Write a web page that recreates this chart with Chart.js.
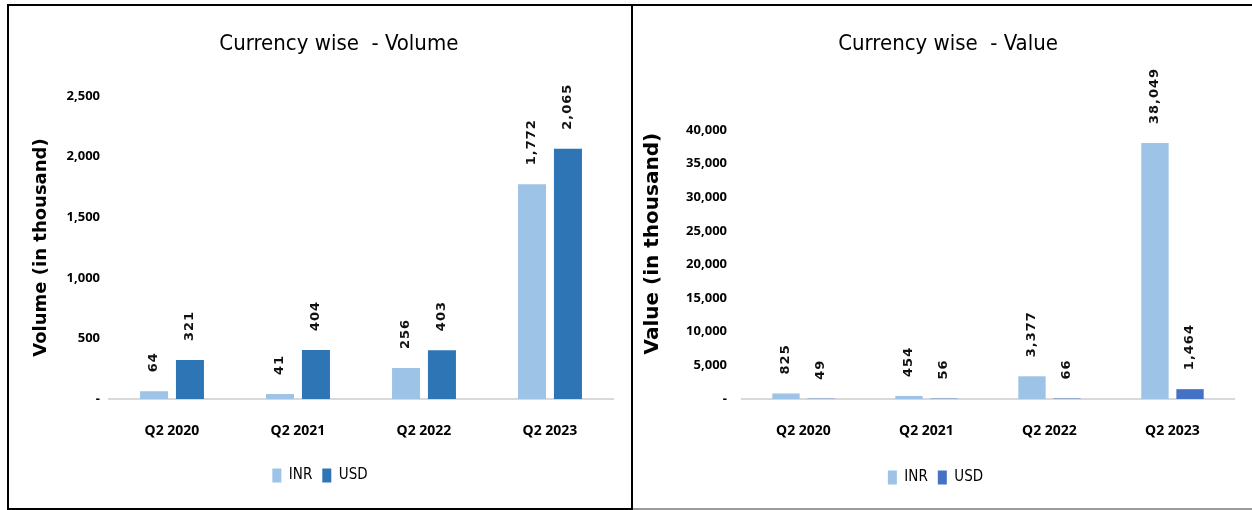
<!DOCTYPE html>
<html>
<head>
<meta charset="utf-8">
<script src="https://cdn.jsdelivr.net/npm/chart.js@4/dist/chart.umd.min.js"></script>
<style>
  body { margin: 0; background: #fff; width: 1252px; height: 510px; overflow: hidden; }
  .panel { position: absolute; box-sizing: border-box; }
  #left-panel { left: 7px; top: 4px; width: 626px; height: 506px; border: 2px solid #000; }
  #right-panel { left: 633px; top: 4px; width: 619px; height: 506px; border-top: 2px solid #000; border-bottom: 2px solid #9a9a9a; }
  canvas { display: block; }
</style>
</head>
<body>
<div class="panel" id="left-panel"><canvas id="volumeChart" width="622" height="502"></canvas></div>
<div class="panel" id="right-panel"><canvas id="valueChart" width="619" height="502"></canvas></div>
<script>
// Chart data (in thousand)
const quarters = ['Q2 2020', 'Q2 2021', 'Q2 2022', 'Q2 2023'];
const volumeINR = [64, 41, 256, 1772];
const volumeUSD = [321, 404, 403, 2065];
const valueINR = [825, 454, 3377, 38049];
const valueUSD = [49, 56, 66, 1464];

const COND = "'DejaVu Sans Condensed', 'Noto Sans', sans-serif";
const SANS = "'Noto Sans', sans-serif";
const WIDE = "'DejaVu Sans', Verdana, sans-serif";

// Rotated value labels above each bar
const barLabels = {
    id: 'barLabels',
    afterDatasetsDraw(chart) {
        const ctx = chart.ctx;
        ctx.save();
        ctx.font = 'bold 13px ' + WIDE;
        ctx.letterSpacing = '1px';
        ctx.fillStyle = '#111';
        ctx.textAlign = 'left';
        ctx.textBaseline = 'middle';
        chart.data.datasets.forEach((ds, i) => {
            chart.getDatasetMeta(i).data.forEach((bar, j) => {
                ctx.save();
                ctx.translate(bar.x, bar.y - 19);
                ctx.rotate(-Math.PI / 2);
                ctx.fillText(ds.data[j].toLocaleString('en-US'), 0, 0);
                ctx.restore();
            });
        });
        ctx.restore();
    }
};

function tickLabel(v) {
    return v === 0 ? '-' : v.toLocaleString('en-US');
}

function buildChart(id, cfg) {
    return new Chart(document.getElementById(id), {
        type: 'bar',
        data: {
            labels: quarters,
            datasets: [
                { label: 'INR', data: cfg.inr, backgroundColor: '#9dc3e6', categoryPercentage: 0.57, barPercentage: 0.78 },
                { label: 'USD', data: cfg.usd, backgroundColor: cfg.usdColor, categoryPercentage: 0.57, barPercentage: 0.78 }
            ]
        },
        options: {
            responsive: false,
            animation: false,
            layout: { padding: { left: cfg.padLeft, right: 18, top: 0, bottom: cfg.padBottom } },
            scales: {
                x: {
                    grid: { color: 'transparent', drawTicks: false },
                    border: { display: true, color: '#d9d9d9', width: 2 },
                    ticks: { padding: 24, color: '#000', font: { family: SANS, size: 14, weight: 'bold' } },
                    afterFit(scale) { scale.height = cfg.xHeight; }
                },
                y: {
                    min: 0,
                    max: cfg.max,
                    grid: { display: false, drawTicks: false },
                    border: { display: false },
                    ticks: {
                        stepSize: cfg.step,
                        padding: cfg.tickPad,
                        color: '#000',
                        font: { family: SANS, size: 13, weight: 'bold' },
                        callback: tickLabel
                    },
                    title: {
                        display: true,
                        text: cfg.yTitle,
                        color: '#000',
                        padding: { top: 4, bottom: 0 },
                        font: { family: WIDE, size: cfg.yTitleSize, weight: 'bold' }
                    },
                    afterFit(scale) { scale.width = cfg.yWidth; }
                }
            },
            plugins: {
                title: {
                    display: true,
                    text: cfg.title,
                    color: '#000',
                    padding: { top: 25, bottom: cfg.titleBottom },
                    font: { family: COND, size: 22, weight: 'normal' }
                },
                legend: {
                    position: 'bottom',
                    labels: {
                        boxWidth: 9,
                        boxHeight: 14,
                        padding: 10,
                        color: '#000',
                        font: { family: COND, size: 15, weight: 'normal' }
                    }
                },
                tooltip: { enabled: false }
            }
        },
        plugins: [barLabels]
    });
}

// leading spaces nudge the centred titles to where the source chart has them
buildChart('volumeChart', {
    title: '      Currency wise  - Volume',
    yTitle: 'Volume (in thousand)',
    yTitleSize: 18,
    inr: volumeINR, usd: volumeUSD, usdColor: '#2e75b6',
    max: 2500, step: 500,
    padLeft: 18, yWidth: 82, tickPad: 9,
    titleBottom: 38.6, xHeight: 59, padBottom: 15
});

buildChart('valueChart', {
    title: '    Currency wise  - Value',
    yTitle: '      Value (in thousand)',
    yTitleSize: 20,
    inr: valueINR, usd: valueUSD, usdColor: '#4472c4',
    max: 40000, step: 5000,
    padLeft: 4, yWidth: 105, tickPad: 15,
    titleBottom: 72.6, xHeight: 61, padBottom: 13
});
</script>
</body>
</html>
